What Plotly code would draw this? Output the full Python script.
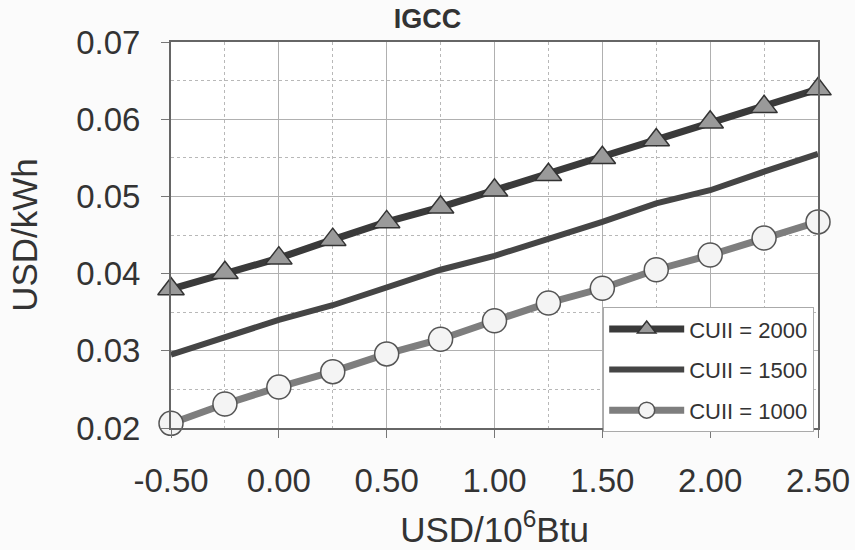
import plotly.graph_objects as go

fuel_price = [-0.50, -0.25, 0.00, 0.25, 0.50, 0.75, 1.00, 1.25, 1.50, 1.75, 2.00, 2.25, 2.50]
cuii_2000 = [0.0380, 0.0401, 0.0420, 0.0444, 0.0467, 0.0486, 0.0508, 0.0528, 0.0550, 0.0573, 0.0596, 0.0616, 0.0639]
cuii_1500 = [0.0295, 0.0317, 0.0340, 0.0359, 0.0381, 0.0405, 0.0423, 0.0444, 0.0467, 0.0491, 0.0508, 0.0532, 0.0555]
cuii_1000 = [0.0206, 0.0231, 0.0253, 0.0273, 0.0296, 0.0315, 0.0339, 0.0362, 0.0381, 0.0405, 0.0424, 0.0446, 0.0467]
x_ticks = [-0.5, 0.0, 0.5, 1.0, 1.5, 2.0, 2.5]
x_tick_labels = ["-0.50", "0.00", "0.50", "1.00", "1.50", "2.00", "2.50"]
y_ticks = [0.02, 0.03, 0.04, 0.05, 0.06, 0.07]
y_tick_labels = ["0.02", "0.03", "0.04", "0.05", "0.06", "0.07"]

font = "Liberation Sans, Arial, sans-serif"

fig = go.Figure()
fig.add_trace(go.Scatter(
    x=fuel_price, y=cuii_2000, name="CUII = 2000", mode="lines+markers",
    legendgroup="a", cliponaxis=False,
    line=dict(color="#3a3a3a", width=7),
    marker=dict(symbol="triangle-up", size=23, color="#9a9a9a",
                line=dict(color="#333333", width=1.5)),
))
fig.add_trace(go.Scatter(
    x=fuel_price, y=cuii_1500, name="CUII = 1500", mode="lines",
    legendgroup="b", cliponaxis=False,
    line=dict(color="#454545", width=6),
))
fig.add_trace(go.Scatter(
    x=fuel_price, y=cuii_1000, name="CUII = 1000", mode="lines+markers",
    legendgroup="c", cliponaxis=False,
    line=dict(color="#7e7e7e", width=7),
    marker=dict(symbol="circle", size=24, color="#f4f4f4",
                line=dict(color="#555555", width=1.5)),
))

fig.update_layout(
    width=855, height=550,
    margin=dict(l=171, r=37, t=42, b=122),
    paper_bgcolor="#fbfbfb", plot_bgcolor="#ffffff",
    font=dict(family=font, color="#333333"),
    title=dict(text="<b>IGCC</b>", x=0.5, xanchor="center", y=0.967, yanchor="middle",
               font=dict(size=27, color="#333333")),
    showlegend=True,
    legend=dict(x=0.668, y=0.313, xanchor="left", yanchor="top",
                bgcolor="#ffffff", bordercolor="#aaaaaa", borderwidth=1,
                font=dict(size=22, color="#333333"), itemwidth=75,
                tracegroupgap=9),
)
fig.update_xaxes(
    range=[-0.5, 2.5], tickvals=x_ticks, ticktext=x_tick_labels, automargin=False,
    tickfont=dict(size=33, color="#333333"), ticklabelstandoff=14,
    title=dict(text="USD/10<sup>6</sup>Btu", font=dict(size=35, color="#333333"), standoff=20),
    showgrid=True, gridcolor="#b0b0b0", gridwidth=1,
    showline=True, linecolor="#666666", linewidth=2, mirror=True,
    ticks="outside", ticklen=8, tickcolor="#777777",
    minor=dict(dtick=0.25, showgrid=True, gridcolor="#b8b8b8", griddash="dot", ticks=""),
    zeroline=False,
)
fig.update_yaxes(
    range=[0.02, 0.07], tickvals=y_ticks, ticktext=y_tick_labels, automargin=False,
    tickfont=dict(size=33, color="#333333"), ticklabelstandoff=14,
    title=dict(text="USD/kWh", font=dict(size=35, color="#333333"), standoff=28),
    showgrid=True, gridcolor="#b0b0b0", gridwidth=1,
    showline=True, linecolor="#666666", linewidth=2, mirror=True,
    ticks="outside", ticklen=8, tickcolor="#777777",
    minor=dict(dtick=0.005, showgrid=True, gridcolor="#b8b8b8", griddash="dot", ticks=""),
    zeroline=False,
)

fig.write_html("out.html")
